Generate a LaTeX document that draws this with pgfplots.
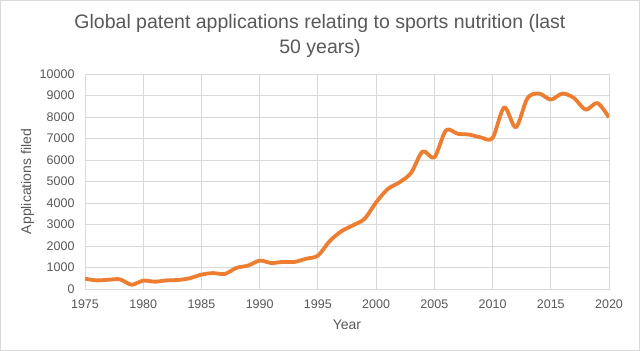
\documentclass[border=0pt]{standalone}
\usepackage{fontspec}
\setmainfont{Liberation Sans}
\usepackage{pgfplots}
\pgfplotsset{compat=1.18}
\definecolor{txt}{HTML}{595959}
\definecolor{gridc}{HTML}{D9D9D9}
\definecolor{lineor}{HTML}{ED7D31}
\begin{document}
\begin{tikzpicture}
\useasboundingbox (-85bp,-62bp) rectangle (555bp,289bp);
\fill[white] (-85bp,-62bp) rectangle (555bp,289bp);
\draw[gridc, line width=1bp] (-84.5bp,-61.5bp) rectangle (554.5bp,288.5bp);
\begin{axis}[
  at={(0,0)}, anchor=south west,
  scale only axis, width=524bp, height=215bp,
  xmin=1975, xmax=2020, ymin=0, ymax=10000,
  xtick={1975,1980,...,2020}, ytick={0,1000,...,10000},
  grid=major, major grid style={gridc, line width=0.8bp},
  axis line style={gridc, line width=0.8bp},
  major tick length=0pt,
  tick label style={font=\fontsize{12.5bp}{14bp}\selectfont, text=txt},
  /pgf/number format/assume math mode=true,
  /pgf/number format/1000 sep={},
  xticklabel style={yshift=-7bp},
  yticklabel style={xshift=-7bp},
  scaled y ticks=false,
  xlabel={Year}, ylabel={Applications filed},
  every axis x label/.style={at={(axis description cs:0.5,0)}, anchor=center, yshift=-36bp, font=\fontsize{14bp}{16bp}\selectfont, text=txt},
  every axis y label/.style={at={(axis description cs:0,0.5)}, anchor=center, rotate=90, yshift=57.5bp, font=\fontsize{14bp}{16bp}\selectfont, text=txt},
]
\addplot[lineor, line width=3.8bp, smooth, tension=0.5, line join=round] coordinates {
(1975,480) (1976,400) (1977,430) (1978,450) (1979,200) (1980,390)
(1981,340) (1982,400) (1983,420) (1984,500) (1985,670) (1986,740)
(1987,700) (1988,980) (1989,1090) (1990,1320) (1991,1210) (1992,1260)
(1993,1260) (1994,1410) (1995,1550) (1996,2220) (1997,2680) (1998,2960)
(1999,3260) (2000,4030) (2001,4650) (2002,4960) (2003,5400) (2004,6400)
(2005,6120) (2006,7380) (2007,7220) (2008,7180) (2009,7050) (2010,7020)
(2011,8450) (2012,7520) (2013,8880) (2014,9090) (2015,8810) (2016,9090)
(2017,8880) (2018,8340) (2019,8650) (2020,7980)
};
\end{axis}
\node[anchor=base, text=txt, font=\fontsize{19.5bp}{23bp}\selectfont, inner sep=0pt] at (235bp,260bp) {Global patent applications relating to sports nutrition (last};
\node[anchor=base, text=txt, font=\fontsize{19.5bp}{23bp}\selectfont, inner sep=0pt] at (235bp,235bp) {50 years)};
\end{tikzpicture}
\end{document}
